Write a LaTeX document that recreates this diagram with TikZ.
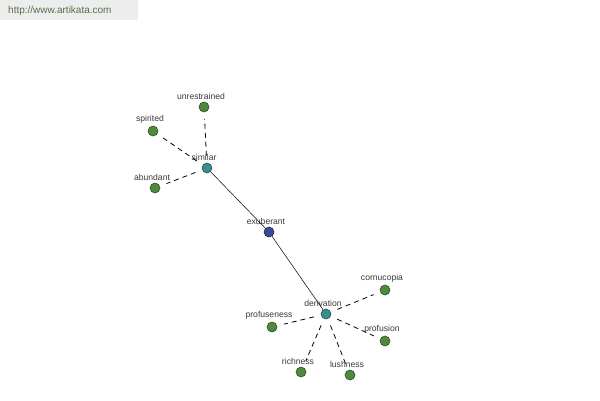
\documentclass[tikz,border=0pt]{standalone}
\usepackage{fontspec}
\setmainfont{Liberation Sans}
\usetikzlibrary{positioning}
\definecolor{choja}{HTML}{4F8A3C}
\definecolor{chojab}{HTML}{2E4F22}
\definecolor{ceje}{HTML}{3E8C8C}
\definecolor{cejeb}{HTML}{24504F}
\definecolor{craiz}{HTML}{3C4A96}
\definecolor{craizb}{HTML}{1E2650}
\definecolor{cweb}{HTML}{EDEDED}
\definecolor{ctexto}{HTML}{3A3A3A}
\definecolor{curl}{HTML}{55704A}
\tikzset{
  punto/.style={circle,inner sep=0pt,minimum size=10pt,line width=0.6pt,
                label={[font=\fontsize{8.6}{10}\selectfont,text=ctexto,xshift=-3pt,inner sep=2pt]above:#1}},
  hoja/.style={punto=#1,draw=chojab,fill=choja},
  eje/.style={punto=#1,draw=cejeb,fill=ceje},
  raiz/.style={punto=#1,draw=craizb,fill=craiz},
  rel/.style={draw=black,line width=0.8pt,dash pattern=on 5pt off 4pt,shorten <=7pt,shorten >=7pt},
  enlace/.style={draw=black,line width=0.5pt},
}
\begin{document}
\begin{tikzpicture}[x=1pt,y=-1pt]
\useasboundingbox (0,0) rectangle (600,400);
\fill[white] (0,0) rectangle (600,400);

\node[fill=cweb,minimum width=138pt,minimum height=20pt,inner sep=0pt,anchor=north west] (web) at (0,0) {};
\node[anchor=west,text=curl,font=\fontsize{10}{12}\selectfont,inner sep=0pt] (url) at (8,11) {http://www.artikata.com};

\node[raiz=exuberant] (exu) at (269,232) {};
\node[eje=similar] (sim) at (207,168) {};
\node[eje=derivation] (der) at (326,314) {};

\node[hoja=unrestrained] (unr) at (204,107) {};
\node[hoja=spirited] (spi) at (153,131) {};
\node[hoja=abundant] (abu) at (155,188) {};

\node[hoja=cornucopia] (cor) at (385,290) {};
\node[hoja=profuseness] (prs) at (272,327) {};
\node[hoja=profusion] (pro) at (385,341) {};
\node[hoja=richness] (ric) at (301,372) {};
\node[hoja=lushness] (lus) at (350,375) {};

\draw[enlace] (sim) -- (exu);
\draw[enlace] (exu) -- (der);

\foreach \h in {unr,spi,abu}
  \draw[rel] (sim) -- (\h);
\foreach \h in {cor,prs,pro,ric,lus}
  \draw[rel] (der) -- (\h);

\end{tikzpicture}
\end{document}
